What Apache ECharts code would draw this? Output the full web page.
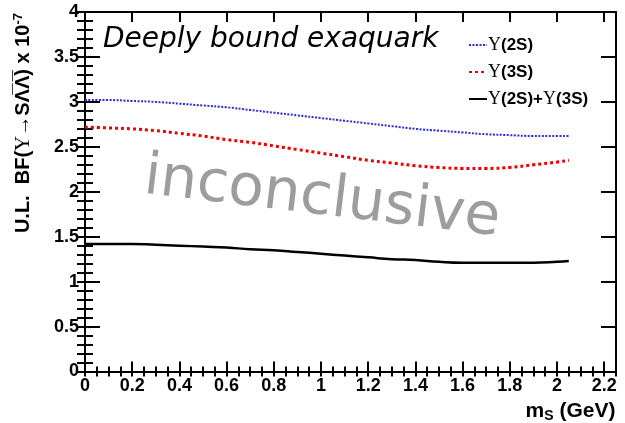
<!DOCTYPE html>
<html>
<head>
<meta charset="utf-8">
<script src="https://cdn.jsdelivr.net/npm/echarts@6/dist/echarts.min.js"></script>
<style>
  html, body { margin: 0; padding: 0; background: #fff; }
  #chart { width: 625px; height: 423px; }
</style>
</head>
<body>
<div id="chart"></div>
<script>
// Scalar mass m_S (GeV)
const massGeV = [0, 0.1, 0.2, 0.3, 0.4, 0.5, 0.6, 0.7, 0.8, 0.9, 1.0,
                 1.1, 1.2, 1.3, 1.4, 1.5, 1.6, 1.7, 1.8, 1.9, 2.0, 2.05];
// Upper limits on BF (x 10^-7)
const ul2S = [3.02, 3.02, 3.01, 3.00, 2.98, 2.96, 2.94, 2.91, 2.88, 2.85, 2.82,
              2.79, 2.76, 2.73, 2.70, 2.68, 2.66, 2.64, 2.63, 2.62, 2.62, 2.62];
const ul3S = [2.72, 2.71, 2.70, 2.68, 2.65, 2.62, 2.58, 2.55, 2.51, 2.47, 2.43,
              2.39, 2.35, 2.32, 2.29, 2.27, 2.26, 2.26, 2.27, 2.30, 2.33, 2.35];
const ulSum = [1.42, 1.42, 1.42, 1.41, 1.40, 1.39, 1.38, 1.36, 1.35, 1.33, 1.31,
               1.29, 1.27, 1.25, 1.24, 1.22, 1.21, 1.21, 1.21, 1.21, 1.22, 1.23];
const seriesNames = ['Y(2S)', 'Y(3S)', 'Y(2S)+Y(3S)'];
const xRange = [0, 2.25];
const yRange = [0, 4];

const chart = echarts.init(document.getElementById('chart'), null, { renderer: 'canvas' });

const sans = 'Liberation Sans, Arial, sans-serif';
const serif = 'Liberation Serif, Times New Roman, serif';
const dejavu = 'DejaVu Sans, sans-serif';

function pairs(ys) { return massGeV.map((x, i) => [x, ys[i]]); }

function fmtX(v) {
  const k = Math.round(v * 10);
  if (Math.abs(v * 10 - k) > 1e-6 || k % 2 !== 0 || v > 2.2 + 1e-9) return '';
  return String(Math.round(v * 10) / 10);
}
function fmtY(v) {
  return String(Math.round(v * 10) / 10);
}

const frameLine = { show: true, onZero: false, lineStyle: { color: '#000', width: 2 } };
const noLine = { show: false };

function xAx(pos, interval, len, labels, line) {
  return {
    type: 'value', position: pos, min: xRange[0], max: xRange[1], interval: interval,
    axisLine: line ? frameLine : noLine,
    axisTick: { show: true, inside: true, length: len, lineStyle: { color: '#000', width: 2 } },
    axisLabel: labels ? { show: true, formatter: fmtX, color: '#000', fontFamily: sans,
      fontWeight: 'bold', fontSize: 18, margin: 6, showMaxLabel: false } : { show: false },
    splitLine: { show: false }
  };
}
function yAx(pos, interval, len, labels, line) {
  return {
    type: 'value', position: pos, min: yRange[0], max: yRange[1], interval: interval,
    axisLine: line ? frameLine : noLine,
    axisTick: { show: true, inside: true, length: len, lineStyle: { color: '#000', width: 2 } },
    axisLabel: labels ? { show: true, formatter: fmtY, color: '#000', fontFamily: sans,
      fontWeight: 'bold', fontSize: 18, margin: 6 } : { show: false },
    splitLine: { show: false }
  };
}

const xAxes = [
  xAx('bottom', 0.2, 10, true, true),
  xAx('bottom', 0.05, 5, false, false),
  xAx('top', 0.2, 10, false, true),
  xAx('top', 0.05, 5, false, false)
];
const yAxes = [
  yAx('left', 0.5, 15, true, true),
  yAx('left', 0.1, 8, false, false),
  yAx('right', 0.5, 15, false, true),
  yAx('right', 0.1, 8, false, false)
];

// x title sits under the right end of the axis
xAxes[0].name = '{m|m}{s|S}{m| (GeV)}';
xAxes[0].nameLocation = 'middle';
xAxes[0].nameGap = 20;
xAxes[0].nameTextStyle = {
  align: 'center', verticalAlign: 'top', padding: [0, 0, 0, 440],
  rich: {
    m: { fontFamily: sans, fontWeight: 'bold', fontSize: 21, color: '#000' },
    s: { fontFamily: sans, fontWeight: 'bold', fontSize: 14, color: '#000', padding: [10, 0, 0, 0] }
  }
};

yAxes[0].name = '{t|U.L.  BF(}{g|\u03A5}{t|\u2192S\u039B\u0305\u039B\u0305) x 10}{p|-7}';
yAxes[0].nameLocation = 'end';
yAxes[0].nameRotate = 90;
yAxes[0].nameGap = -1;
yAxes[0].nameTextStyle = {
  align: 'right', verticalAlign: 'bottom', padding: [0, 0, 50, 0],
  rich: {
    t: { fontFamily: sans, fontWeight: 'bold', fontSize: 20, color: '#000' },
    g: { fontFamily: serif, fontSize: 21, color: '#000' },
    p: { fontFamily: sans, fontWeight: 'bold', fontSize: 13, color: '#000', padding: [0, 0, 10, 0] }
  }
};

const legendRich = {
  g: { fontFamily: serif, fontSize: 18, color: '#000' },
  t: { fontFamily: sans, fontWeight: 'bold', fontSize: 17, color: '#000' }
};

const option = {
  animation: false,
  backgroundColor: '#fff',
  grid: { left: 85, right: 9, top: 12, bottom: 51.5, containLabel: false, outerBoundsMode: 'none' },
  xAxis: xAxes,
  yAxis: yAxes,
  legend: {
    orient: 'vertical', left: 463, top: 31, itemGap: 9, itemWidth: 18, itemHeight: 20,
    data: seriesNames,
    formatter: function (name) {
      if (name === seriesNames[0]) return '{g|\u03A5}{t|(2S)}';
      if (name === seriesNames[1]) return '{g|\u03A5}{t|(3S)}';
      return '{g|\u03A5}{t|(2S)+}{g|\u03A5}{t|(3S)}';
    },
    itemStyle: { color: 'rgba(0,0,0,0)', borderWidth: 0, opacity: 0 },
    textStyle: { rich: legendRich, padding: [0, 0, 0, -4] }
  },
  graphic: [
    {
      type: 'text', left: 103, top: 26,
      style: { text: 'Deeply bound exaquark', fontFamily: dejavu,
        fontStyle: 'italic', fontSize: 28, fill: '#000' }
    },
    {
      type: 'text', x: 322, y: 199, rotation: -0.12,
      style: { text: 'inconclusive', fontFamily: dejavu,
        fontSize: 58, fill: '#9d9d9d', align: 'center', verticalAlign: 'middle' }
    }
  ],
  series: [
    {
      name: seriesNames[0], type: 'line', data: pairs(ul2S), smooth: true,
      symbol: 'circle', symbolSize: 0, showSymbol: false,
      lineStyle: { color: '#2a2ae0', width: 2, type: [2, 1.5] }, itemStyle: { color: '#2a2ae0' }
    },
    {
      name: seriesNames[1], type: 'line', data: pairs(ul3S), smooth: true,
      symbol: 'circle', symbolSize: 0, showSymbol: false,
      lineStyle: { color: '#ee0000', width: 3, type: [3, 3] }, itemStyle: { color: '#ee0000' }
    },
    {
      name: seriesNames[2], type: 'line', data: pairs(ulSum), smooth: true,
      symbol: 'circle', symbolSize: 0, showSymbol: false,
      lineStyle: { color: '#000', width: 2.5, type: 'solid' }, itemStyle: { color: '#000' }
    }
  ]
};

chart.setOption(option);
</script>
</body>
</html>
